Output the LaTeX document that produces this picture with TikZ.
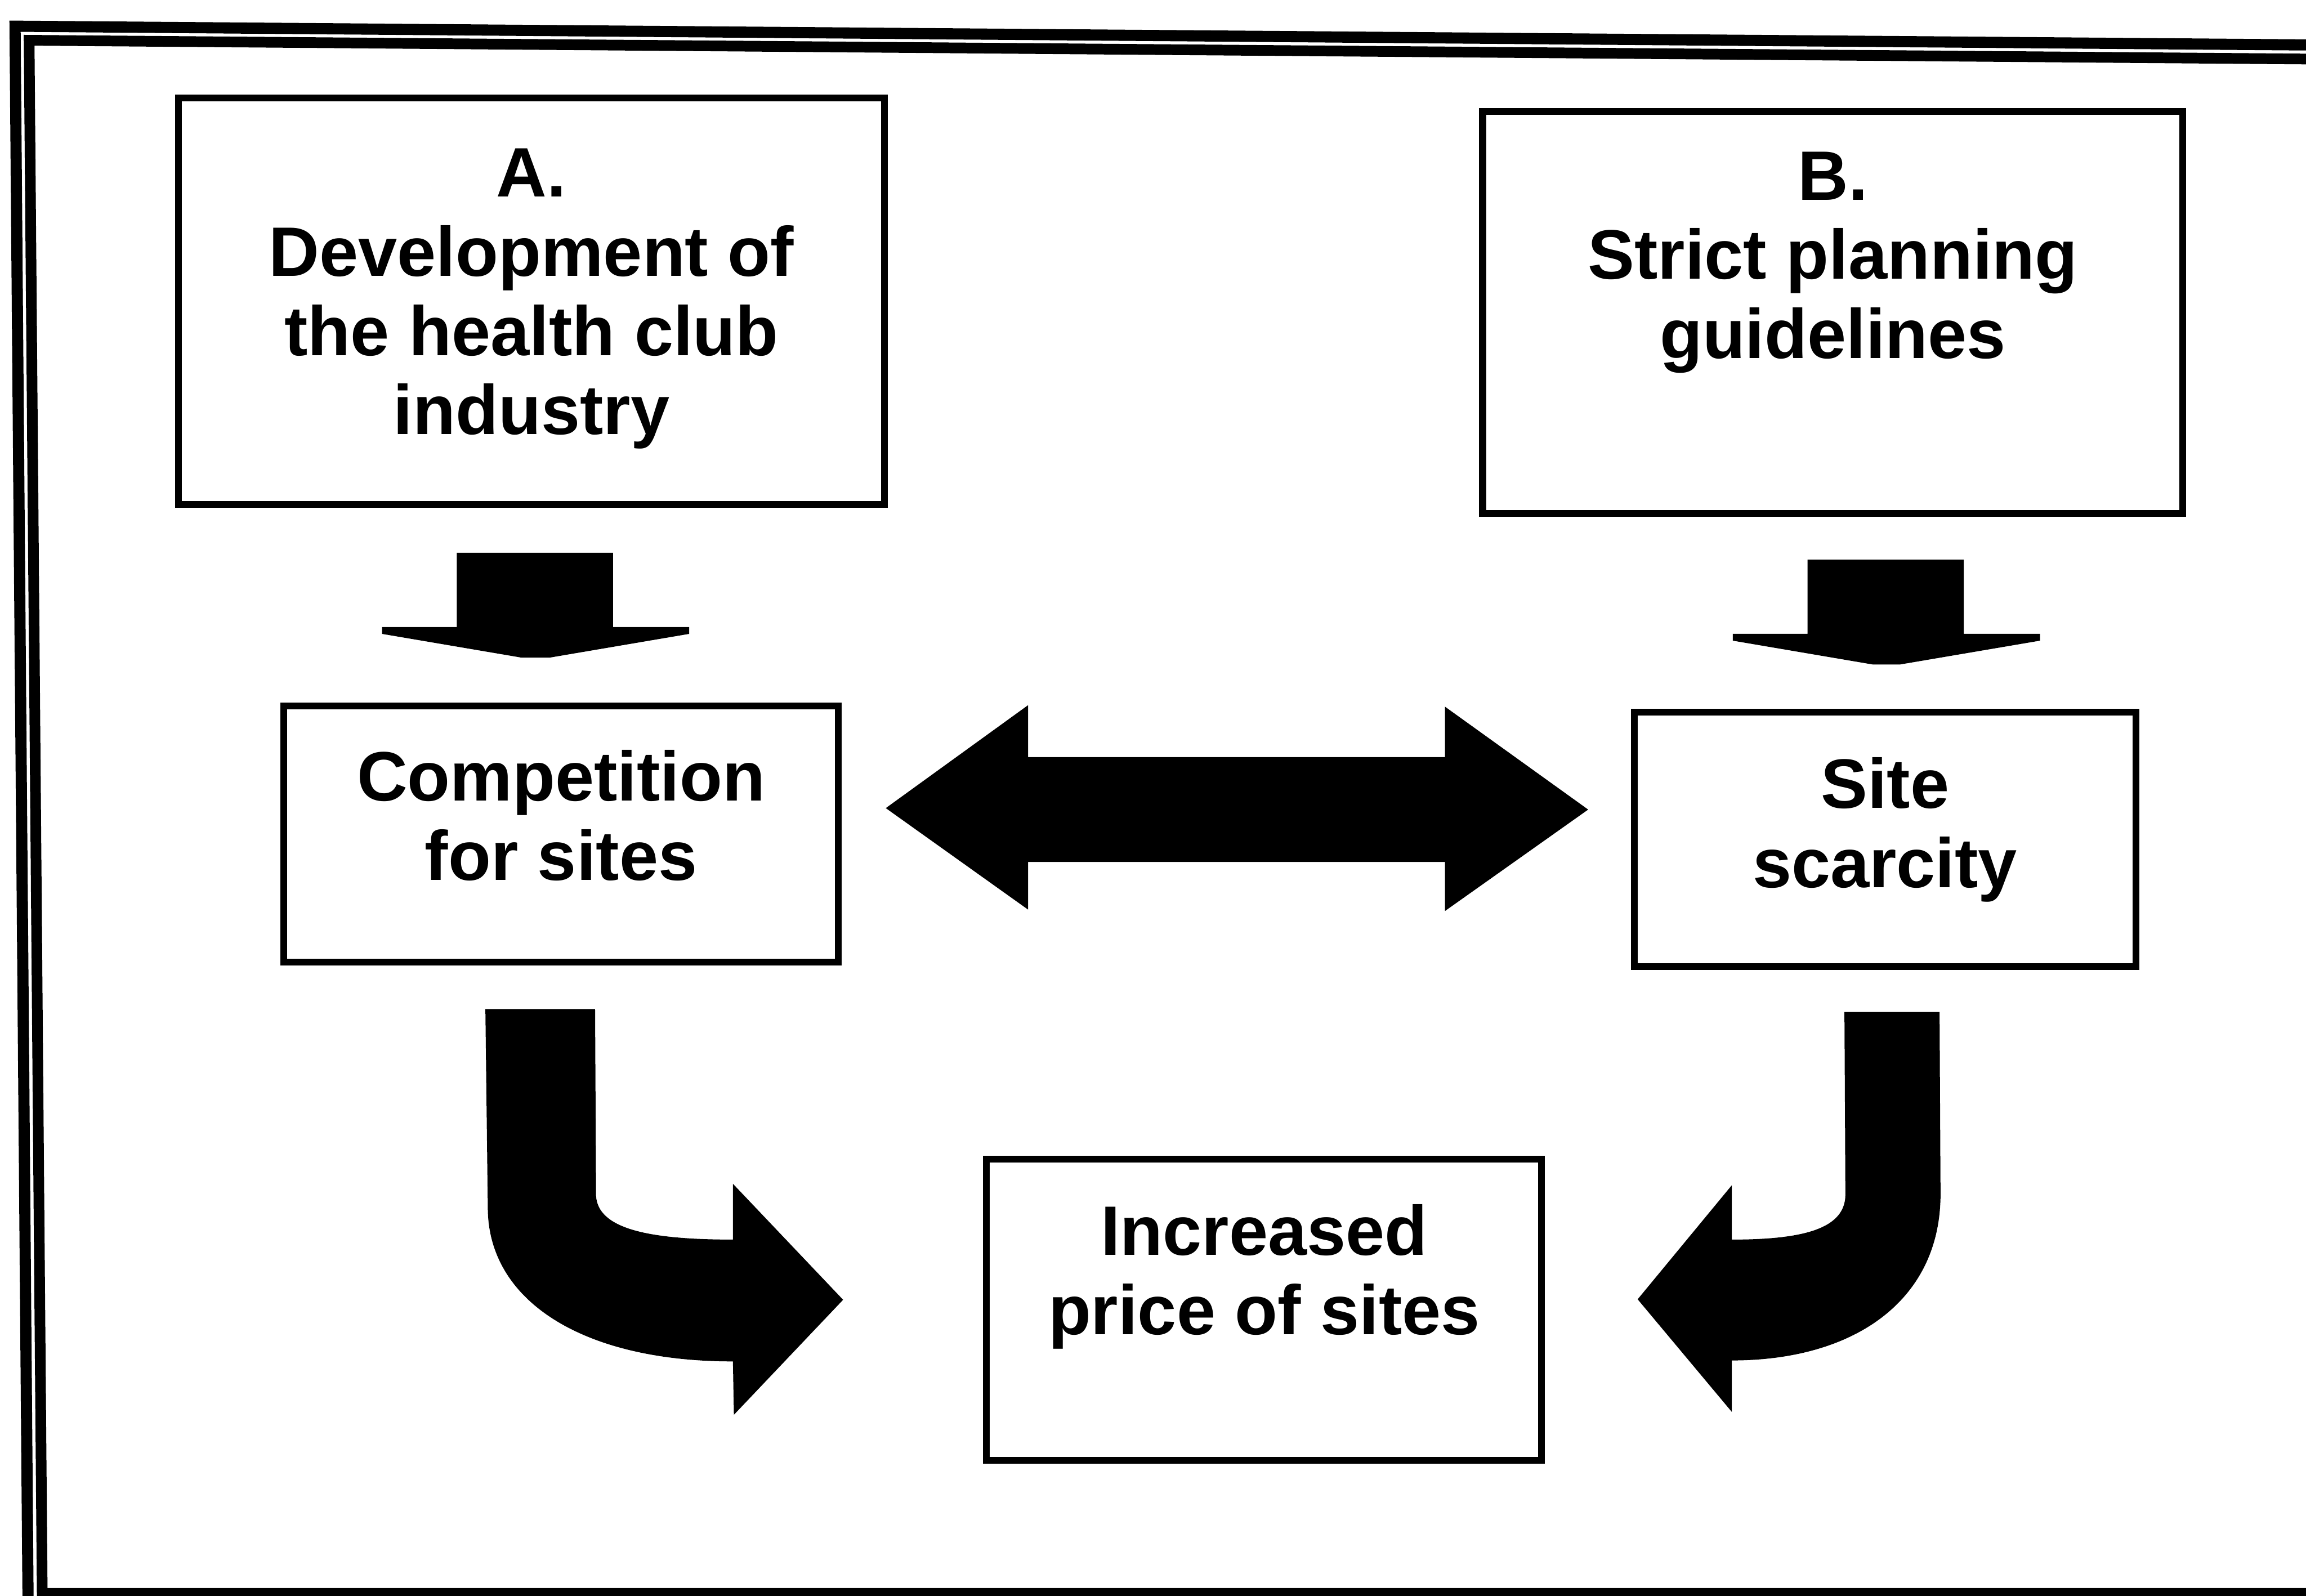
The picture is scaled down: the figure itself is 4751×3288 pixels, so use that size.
\documentclass[tikz,border=0pt]{standalone}
\usepackage{fontspec}
\setmainfont{Liberation Sans}
\begin{document}
\begin{tikzpicture}[x=0.01cm, y=-0.01cm,
  box/.style={draw=black, line width=0.14cm, inner sep=0pt, rectangle},
  txt/.style={font=\fontsize{41}{46.4}\selectfont\bfseries, align=center, anchor=north, inner sep=0pt},
  block/.style={fill=black, draw=none},
  framerule/.style={draw=black, line width=0.23cm, line join=miter}]
\useasboundingbox (0,0) rectangle (4751,3288);
\clip (0,0) rectangle (4751,3288);

% double border (slightly skewed, as scanned)
\draw[framerule] (4800,93) -- (31,54) -- (58,3320);
\draw[framerule, line width=0.22cm] (4800,122) -- (60,83) -- (87,3283) -- (4800,3283);

% boxes
\node[box, minimum width=14.54cm, minimum height=8.37cm] (boxA) at (1095,620.5) {};
\node[box, minimum width=14.42cm, minimum height=8.28cm] (boxB) at (3776,644) {};
\node[box, minimum width=11.42cm, minimum height=5.27cm] (comp) at (1156,1718.5) {};
\node[box, minimum width=10.33cm, minimum height=5.24cm] (scar) at (3883.5,1729) {};
\node[box, minimum width=11.43cm, minimum height=6.21cm] (price) at (2604.5,2698.5) {};

% texts
\node[txt] (tA) at (1095,306) {A.\\Development of\\the health club\\industry};
\node[txt] (tB) at (3776,312) {B.\\Strict planning\\guidelines};
\node[txt] (tC) at (1156,1545) {Competition\\for sites};
\node[txt] (tS) at (3883.5,1560) {Site\\scarcity};
\node[txt] (tP) at (2604.5,2481) {Increased\\price of sites};

% block arrow: A -> competition
\fill[block] (941,1139) -- (1263,1139) -- (1263,1292) -- (1420,1292) -- (1420,1306)
  -- (1132,1355) -- (1075,1355) -- (787,1306) -- (787,1292) -- (941,1292) -- cycle;
% block arrow: B -> scarcity
\begin{scope}[shift={(2783,14)}]
\fill[block] (941,1139) -- (1263,1139) -- (1263,1292) -- (1420,1292) -- (1420,1306)
  -- (1132,1355) -- (1075,1355) -- (787,1306) -- (787,1292) -- (941,1292) -- cycle;
\end{scope}

% two-headed block arrow between competition and scarcity
\fill[block] (1825,1665) -- (2118,1453) -- (2118,1560) -- (2977,1560) -- (2977,1456)
  -- (3272,1668) -- (2977,1877) -- (2977,1776) -- (2118,1776) -- (2118,1874) -- cycle;

% bent arrow: competition -> price
\fill[block] (1000,2079) -- (1226,2079) -- (1228,2464)
  .. controls (1232,2530) and (1330,2554) .. (1510,2554)
  -- (1510,2439) -- (1737,2678) -- (1512,2915) -- (1510,2805)
  .. controls (1200,2805) and (1005,2680) .. (1005,2488) -- cycle;

% bent arrow: scarcity -> price
\fill[block] (3800,2085) -- (3996,2085) -- (3998,2460)
  .. controls (3998,2680) and (3820,2803) .. (3568,2803)
  -- (3568,2909) -- (3374,2677) -- (3568,2442) -- (3568,2554)
  .. controls (3720,2554) and (3802,2530) .. (3802,2461) -- cycle;
\end{tikzpicture}
\end{document}
